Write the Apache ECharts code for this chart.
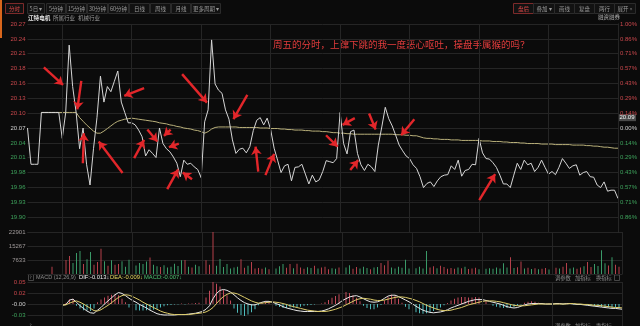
<!DOCTYPE html>
<html><head><meta charset="utf-8">
<script src="https://cdn.jsdelivr.net/npm/echarts@6/dist/echarts.min.js"></script>
<style>html,body{margin:0;padding:0;background:#0b0b0b;}#c{width:640px;height:326px;}</style>
</head><body><div id="c"></div>
<script>
// ---------- data ----------
const PREV_CLOSE = 20.07;
const price = [
20.07,20.00,20.00,20.00,20.10,20.10,20.10,20.10,20.10,20.10,
20.05,20.10,20.23,20.15,20.10,20.03,20.07,20.00,19.96,20.03,
20.09,20.17,20.12,20.15,20.14,20.16,20.18,20.12,20.10,20.08,
20.08,20.076,20.066,20.053,20.016,20.028,20.021,20.013,20.07,20.04,
20.03,20.024,20.014,20.002,19.976,20.008,20.00,20.002,19.995,19.99,
19.974,20.082,20.105,20.24,20.155,20.143,20.137,20.105,20.087,20.047,
20.021,20.029,20.031,20.022,20.034,20.065,20.085,20.09,20.076,20.089,
20.067,20.031,20.008,19.984,19.997,20.00,19.968,19.994,19.995,20.00,
19.981,19.962,19.979,19.966,19.97,19.986,20.007,20.005,20.003,20.011,
20.10,20.04,20.02,20.063,20.066,20.021,19.999,19.988,20.00,19.995,
19.986,20.037,20.072,20.11,20.088,20.074,20.056,20.037,20.026,20.016,
20.011,19.999,19.992,19.976,19.955,19.963,19.966,19.957,19.968,19.976,
19.979,19.98,19.997,19.99,20.008,19.977,19.988,19.99,20.00,19.999,
20.05,20.022,20.011,20.01,20.003,19.994,19.979,19.962,19.962,19.955,
19.979,20.002,19.99,20.008,19.999,20.002,19.986,19.994,20.008,19.994,
19.981,19.986,19.98,19.994,20.011,20.002,19.992,19.997,19.999,19.979,
19.984,19.986,19.976,19.975,19.96,19.955,19.966,19.948,19.95,19.95,
19.934];
const avgPrice = [
null,null,null,null,20.10,20.10,20.10,20.10,20.10,20.10,
20.10,20.10,20.10,20.10,20.10,20.09,20.083,20.076,20.07,20.064,
20.06,20.06,20.064,20.069,20.074,20.079,20.083,20.085,20.087,20.088,
20.089,20.088,20.087,20.086,20.085,20.084,20.083,20.082,20.08,20.079,
20.078,20.076,20.075,20.073,20.072,20.07,20.069,20.068,20.066,20.065,
20.063,20.06,20.063,20.068,20.071,20.072,20.072,20.072,20.072,20.072,
20.072,20.071,20.071,20.071,20.071,20.071,20.071,20.07,20.07,20.07,
20.069,20.069,20.069,20.068,20.068,20.067,20.067,20.066,20.066,20.066,
20.065,20.065,20.064,20.064,20.064,20.063,20.063,20.062,20.061,20.061,
20.06,20.06,20.059,20.059,20.058,20.058,20.058,20.058,20.058,20.058,
20.058,20.058,20.058,20.058,20.058,20.058,20.057,20.057,20.057,20.056,
20.056,20.055,20.055,20.053,20.051,20.05,20.05,20.049,20.049,20.048,
20.048,20.048,20.047,20.047,20.047,20.046,20.046,20.046,20.046,20.046,
20.046,20.045,20.045,20.045,20.044,20.044,20.044,20.043,20.043,20.042,
20.042,20.042,20.041,20.041,20.04,20.04,20.04,20.04,20.039,20.039,
20.039,20.039,20.038,20.038,20.038,20.038,20.038,20.037,20.037,20.037,
20.037,20.036,20.036,20.035,20.035,20.034,20.033,20.033,20.032,20.031,
20.031];
const volume = [
0,0,0,0,0,0,0,3900,0,0,
19500,7600,9800,6000,11400,12500,5500,8000,12000,5000,
6500,13700,7000,4500,7500,5000,5500,7000,4000,7800,
5200,4600,6000,5400,6800,9000,5000,4200,3800,4800,
3500,4000,5600,4400,7500,7600,4000,3600,5000,4200,
6500,7500,5000,22901,4500,8200,3800,5500,3000,3600,
4000,8000,3400,4500,6500,3000,3300,2800,3500,2600,
3800,3000,4200,5500,3400,5500,3200,5600,3600,2800,
3700,3300,4500,3000,3600,4000,2600,3200,2800,3500,
9000,3500,4800,2800,3800,3000,4000,3300,2600,3500,
3800,6000,4800,7200,3500,3000,4000,3400,7800,3000,
4600,3200,3900,3000,12500,3500,4200,3200,4500,3800,
2800,3300,2900,3600,3100,3900,2700,3000,3400,2600,
3500,2900,3200,2800,3600,3000,5800,3600,9200,3300,
3700,6800,3000,3400,2700,3100,2600,2900,3300,2500,
2800,3400,3000,4000,6000,3000,3500,2800,3600,4200,
6600,3800,5500,4400,13000,5800,4600,9200,5000,4000,
11200];
const macdPad = [null,null,null,null,null,null,null,null,null,null];
const dif = macdPad.concat([
-0.003,-0.001,0.009,0.011,0.004,-0.004,-0.010,-0.016,-0.020,-0.021,
-0.014,-0.008,0.000,0.007,0.014,0.021,0.026,0.024,0.019,0.013,
0.008,0.004,-0.001,-0.005,-0.009,-0.014,-0.018,-0.022,-0.024,-0.025,
-0.025,-0.025,-0.025,-0.024,-0.024,-0.024,-0.023,-0.022,-0.021,-0.019,
-0.017,-0.012,-0.004,0.012,0.024,0.031,0.033,0.031,0.027,0.021,
0.014,0.008,0.003,0.000,-0.002,-0.002,0.001,0.004,0.006,0.006,
0.004,0.001,-0.002,-0.006,-0.009,-0.011,-0.013,-0.015,-0.016,-0.017,
-0.017,-0.017,-0.017,-0.017,-0.016,-0.014,-0.011,-0.007,-0.003,0.002,
0.008,0.012,0.016,0.018,0.019,0.016,0.012,0.008,0.005,0.004,
0.005,0.008,0.013,0.018,0.020,0.020,0.017,0.013,0.009,0.005,
0.000,-0.005,-0.010,-0.014,-0.017,-0.019,-0.020,-0.019,-0.018,-0.016,
-0.013,-0.009,-0.006,-0.003,0.000,0.003,0.006,0.008,0.010,0.010,
0.010,0.008,0.006,0.004,0.002,0.000,-0.003,-0.006,-0.008,-0.009,
-0.008,-0.005,-0.002,0.000,0.001,0.001,0.001,0.001,0.000,0.000,
0.000,0.001,0.001,0.000,0.001,0.001,0.000,-0.001,-0.001,-0.002,
-0.003,-0.004,-0.005,-0.006,-0.007,-0.008,-0.009,-0.010,-0.010,-0.011,
-0.012]);
const dea = macdPad.concat([
-0.002,-0.002,0.002,0.005,0.007,0.004,0.000,-0.005,-0.010,-0.015,
-0.016,-0.013,-0.008,-0.003,0.003,0.009,0.015,0.019,0.021,0.020,
0.017,0.013,0.009,0.004,0.000,-0.004,-0.008,-0.012,-0.016,-0.019,
-0.021,-0.023,-0.024,-0.024,-0.024,-0.024,-0.024,-0.023,-0.022,-0.021,
-0.020,-0.018,-0.014,-0.008,0.001,0.010,0.017,0.022,0.025,0.025,
0.023,0.019,0.015,0.011,0.007,0.004,0.002,0.002,0.003,0.004,
0.005,0.004,0.003,0.001,-0.001,-0.004,-0.006,-0.008,-0.010,-0.012,
-0.014,-0.015,-0.016,-0.017,-0.017,-0.017,-0.016,-0.014,-0.012,-0.009,
-0.006,-0.002,0.002,0.006,0.010,0.012,0.013,0.012,0.011,0.009,
0.008,0.008,0.009,0.011,0.013,0.015,0.016,0.016,0.015,0.013,
0.011,0.008,0.005,0.001,-0.003,-0.006,-0.009,-0.012,-0.014,-0.015,
-0.015,-0.014,-0.012,-0.010,-0.008,-0.005,-0.002,0.000,0.002,0.004,
0.006,0.007,0.007,0.007,0.006,0.005,0.003,0.001,-0.001,-0.003,
-0.004,-0.004,-0.004,-0.003,-0.002,-0.001,0.000,0.000,0.000,0.000,
0.000,0.000,0.000,0.000,0.000,0.001,0.001,0.000,0.000,-0.001,
-0.001,-0.002,-0.003,-0.003,-0.004,-0.005,-0.006,-0.007,-0.008,-0.008,
-0.009]);
const macdHist = macdPad.concat([
-0.002,0.003,0.010,0.012,-0.004,-0.010,-0.014,-0.015,-0.016,-0.010,
0.004,0.010,0.015,0.019,0.021,0.022,0.020,0.012,0.004,-0.008,
-0.012,-0.014,-0.015,-0.015,-0.014,-0.014,-0.013,-0.011,-0.008,-0.005,
-0.003,-0.002,-0.001,-0.001,0.001,-0.001,0.001,0.001,0.002,0.003,
0.006,0.015,0.030,0.050,0.046,0.040,0.032,0.020,0.008,-0.010,
-0.020,-0.025,-0.027,-0.024,-0.019,-0.012,-0.003,0.004,0.007,0.006,
0.002,-0.004,-0.007,-0.009,-0.009,-0.008,-0.008,-0.007,-0.006,-0.004,
-0.003,-0.002,-0.001,0.000,0.001,0.004,0.009,0.014,0.018,0.022,
0.026,0.027,0.025,0.020,0.014,0.006,-0.004,-0.009,-0.012,-0.012,
-0.008,-0.002,0.008,0.016,0.021,0.020,0.012,0.003,-0.006,-0.012,
-0.016,-0.019,-0.021,-0.022,-0.021,-0.019,-0.016,-0.012,-0.008,-0.003,
0.002,0.008,0.012,0.015,0.016,0.016,0.015,0.015,0.016,0.015,
0.012,0.006,0.000,-0.004,-0.006,-0.008,-0.009,-0.009,-0.008,-0.007,
-0.004,-0.001,0.003,0.005,0.006,0.005,0.003,0.001,0.000,0.001,
-0.001,0.001,0.001,-0.001,0.001,0.000,-0.001,-0.002,-0.002,-0.002,
-0.003,-0.004,-0.005,-0.006,-0.007,-0.008,-0.008,-0.009,-0.008,-0.008,
-0.007]);
// red annotation arrows: [tailIndex, tailPrice, headIndex, headPrice]
const arrows = [
[4.71,20.187,10.23,20.153],[15.49,20.161,14.34,20.106],[15.94,20.002,16.23,20.060],
[27.37,19.983,20.51,20.044],[33.57,20.147,27.86,20.132],[30.71,20.012,33.57,20.047],
[34.51,20.067,37.37,20.044],[41.2,20.067,39.29,20.055],[43.57,20.040,40.71,20.033],
[40.23,19.952,43.37,19.990],[47.37,19.971,44.71,19.984],[44.51,20.174,51.66,20.119],
[63.29,20.134,59.29,20.087],[66.43,19.986,65.66,20.034],[68.51,19.979,71.0,20.02],
[94.23,20.089,90.71,20.076],[85.94,20.056,89.29,20.034],[92.91,19.989,95.2,20.008],
[98.34,20.098,100.23,20.067],[111.37,20.087,107.57,20.056],[130.06,19.931,134.63,19.981]];
const gridLineIdx = [10,30,50,70,90,110,130,150,170];
const lastIndex = 170;
const volumeAxisMax = 22901;
const macdTickValues = [0.05,0.025,0,-0.025];
const macdTickLabels = ['0.05','0.02','-0.00','-0.03'];
const tagPrice = 20.09;
const annotation = '周五的分时，上蹿下跳的我一度恶心呕吐，操盘手属猴的吗？';

// ---------- helpers ----------
const toStep = p => (p / PREV_CLOSE - 1) * 700;   // 1 step = 1/7 %
const RED = '#c9474c', GREEN = '#3ea35c', NEUTRAL = '#cfcfcf';
const GRIDC = '#252525';
const NUMFONT = 'Liberation Sans';
const CJK = 'Noto Sans CJK SC';
const stepColor = v => { v = Number(v); return v > 0.01 ? RED : (v < -0.01 ? GREEN : NEUTRAL); };
const vLines = gridLineIdx.map(x => ({xAxis: x}));

const graphics = [];
graphics.push({type:'rect', shape:{x:0,y:0,width:2,height:38}, style:{fill:'#d8661c'}});
function btn(label, x, w, active) {
  graphics.push({type:'rect', shape:{x:x+0.5,y:3.5,width:w,height:10}, style:{fill:'#121212', stroke: active?'#7d2a2a':'#2b2b2b', lineWidth:1}});
  graphics.push({type:'text', x:x+w/2+0.5, y:8.7, style:{text:label, fill: active?'#e04848':'#9a9a9a', fontSize:5.5, fontFamily:CJK, align:'center', verticalAlign:'middle'}});
}
[['分时',5,18,true],['5日 ▾',27,17],['5分钟',46,19],['15分钟',66,20],['30分钟',87,20],['60分钟',108,20],
 ['日线',129,20],['周线',150,20],['月线',171,19],['更多周期 ▾',191,29]].forEach(b => btn(b[0],b[1],b[2],b[3]));
[['盘后',513,20,true],['叠加 ▾',533,21],['画线',554,20],['复盘',574,20],['两行',594,20],['展开 »',614,21]]
  .forEach(b => btn(b[0],b[1],b[2],b[3]));
function txt(t, x, y, color, size, extra) {
  graphics.push({type:'text', x:x, y:y, style:Object.assign({text:t, fill:color, fontSize:size||5.5, fontFamily:CJK, align:'left', verticalAlign:'middle'}, extra||{})});
}
txt('江特电机', 28, 17.5, '#e8e8e8', 5.6, {fontWeight:'bold'});
txt('所属行业', 53, 17.5, '#9a9a9a', 5.5);
txt('机械行业', 78, 17.5, '#9a9a9a', 5.5);
txt('融资融券', 598, 17, '#b0b0b0', 5.5);
txt(annotation, 273, 44, '#e23c3c', 9.5);
// MACD header row
graphics.push({type:'rect', shape:{x:28.5,y:274.5,width:5,height:6}, style:{fill:'none', stroke:'#555', lineWidth:0.8}});
txt('?', 29.6, 277.6, '#999', 4.5);
txt('MACD (12,26,9)', 36, 277.6, '#8c8c8c', 5.5, {fontFamily:NUMFONT});
txt('DIF:-0.013↓', 79, 277.6, '#eeeeee', 5.8, {fontFamily:NUMFONT});
txt('DEA:-0.009↓', 110, 277.6, '#e8d860', 5.8, {fontFamily:NUMFONT});
txt('MACD:-0.007↓', 144, 277.6, '#4cc070', 5.8, {fontFamily:NUMFONT});
txt('调参数', 555, 277.8, '#8c8c8c', 5.3);
txt('加指标', 575, 277.8, '#8c8c8c', 5.3);
txt('换指标', 596, 277.8, '#8c8c8c', 5.3);
graphics.push({type:'rect', shape:{x:614.5,y:275,width:5,height:5.5}, style:{fill:'none', stroke:'#555', lineWidth:0.8}});
txt('?', 29.6, 325.5, '#999', 4.5);
txt('调参数', 555, 325.5, '#8c8c8c', 5.3);
txt('加指标', 575, 325.5, '#8c8c8c', 5.3);
txt('换指标', 596, 325.5, '#8c8c8c', 5.3);

const chart = echarts.init(document.getElementById('c'), null, {renderer:'canvas'});
const gridL = 27.5, gridR = 17.5;
chart.setOption({
  backgroundColor: '#0b0b0b',
  animation: false,
  grid: [
    {left:gridL, right:gridR, top:24, height:208},
    {left:gridL, right:gridR, top:232, height:42},
    {left:gridL, right:gridR, top:282, height:52}
  ],
  xAxis: [0,1,2].map(g => ({type:'value', gridIndex:g, min:0, max:lastIndex, show:false})),
  yAxis: [
    {type:'value', gridIndex:0, min:-7, max:7, interval:1, position:'left',
     axisLine:{show:false}, axisTick:{show:false},
     splitLine:{show:true, lineStyle:{color:GRIDC, width:1}},
     axisLabel:{fontSize:6, fontFamily:NUMFONT, margin:2,
       formatter: v => v < -6.5 ? '' : (PREV_CLOSE * (1 + v / 700)).toFixed(2),
       color: stepColor}},
    {type:'value', gridIndex:0, min:-7, max:7, interval:1, position:'right',
     axisLine:{show:true, lineStyle:{color:'#333'}}, axisTick:{show:false}, splitLine:{show:false},
     axisLabel:{fontSize:6, fontFamily:NUMFONT, margin:2,
       formatter: v => v < -6.5 ? '' : Math.abs(v / 7).toFixed(2) + '%',
       color: stepColor}},
    {type:'value', gridIndex:1, min:0, max:volumeAxisMax, interval:volumeAxisMax/3, position:'left',
     axisLine:{show:false}, axisTick:{show:false},
     splitLine:{show:true, lineStyle:{color:GRIDC}},
     axisLabel:{fontSize:6, fontFamily:NUMFONT, margin:2, color:'#a09a9a',
       formatter: v => v < 1 ? '' : String(Math.floor(v + 1e-6))}},
    {type:'value', gridIndex:2, min:-0.05, max:0.05, interval:0.025, position:'left',
     axisLine:{show:false}, axisTick:{show:false},
     splitLine:{show:true, lineStyle:{color:GRIDC}},
     axisLabel:{fontSize:6, fontFamily:NUMFONT, margin:2,
       formatter: v => { const k = macdTickValues.findIndex(t => Math.abs(t - v) < 1e-6); return k < 0 ? '' : macdTickLabels[k]; },
       color: v => { v = Number(v); return v > 0.001 ? RED : (v < -0.001 ? GREEN : NEUTRAL); }}}
  ],
  series: [
    {type:'line', name:'均价', xAxisIndex:0, yAxisIndex:0, showSymbol:false, silent:true,
     data: avgPrice.map((p,i) => [i, p == null ? null : toStep(p)]),
     lineStyle:{color:'#b9b07a', width:1},
     markLine:{silent:true, symbol:'none', animation:false,
       lineStyle:{color:GRIDC, width:1, type:'solid'}, label:{show:false}, data: vLines}},
    {type:'line', name:'价格', xAxisIndex:0, yAxisIndex:0, showSymbol:false, silent:true,
     data: price.map((p,i) => [i, toStep(p)]),
     lineStyle:{color:'#d6d6d6', width:1},
     markLine:{silent:true, symbol:['none','arrow'], symbolSize:8, animation:false,
       lineStyle:{color:'#e2262a', width:2.4, type:'solid'}, label:{show:false},
       data: arrows.map(a => [{coord:[a[0], toStep(a[1])]}, {coord:[a[2], toStep(a[3])]}])}},
    {type:'bar', name:'成交量', xAxisIndex:1, yAxisIndex:2, barWidth:1, silent:true,
     data: volume.map((v,i) => [i, v]),
     itemStyle:{color: p => { const i = p.dataIndex; return (i === 0 || price[i] >= price[i-1]) ? '#b5404a' : '#3a9a68'; }},
     markLine:{silent:true, symbol:'none', animation:false, lineStyle:{color:GRIDC, width:1, type:'solid'}, label:{show:false}, data: vLines}},
    {type:'bar', name:'MACD', xAxisIndex:2, yAxisIndex:3, barWidth:1, silent:true,
     data: macdHist.map((v,i) => [i, v]),
     itemStyle:{color: p => (p.value[1] >= 0 ? '#c24a5a' : '#4fbcbc')},
     markLine:{silent:true, symbol:'none', animation:false, lineStyle:{color:GRIDC, width:1, type:'solid'}, label:{show:false}, data: vLines}},
    {type:'line', name:'DIF', xAxisIndex:2, yAxisIndex:3, showSymbol:false, silent:true,
     data: dif.map((v,i) => [i, v]), lineStyle:{color:'#e8e8e8', width:1}},
    {type:'line', name:'DEA', xAxisIndex:2, yAxisIndex:3, showSymbol:false, silent:true,
     data: dea.map((v,i) => [i, v]), lineStyle:{color:'#dccb6a', width:1}}
  ],
  graphic: graphics
});
// price tag on the right axis, placed through the chart's own y scale
const tagY = chart.convertToPixel({yAxisIndex:0}, toStep(tagPrice));
const tagX = chart.convertToPixel({xAxisIndex:0}, lastIndex);
graphics.push({type:'group', x:tagX, y:tagY, z:100, children:[
  {type:'rect', shape:{x:0, y:-3.5, width:18, height:7}, style:{fill:'#4a4a4a'}},
  {type:'text', x:9, y:0, style:{text:tagPrice.toFixed(2), fill:'#eeeeee', fontSize:6, fontFamily:NUMFONT, align:'center', verticalAlign:'middle'}}
]});
chart.setOption({graphic: graphics});
</script></body></html>
